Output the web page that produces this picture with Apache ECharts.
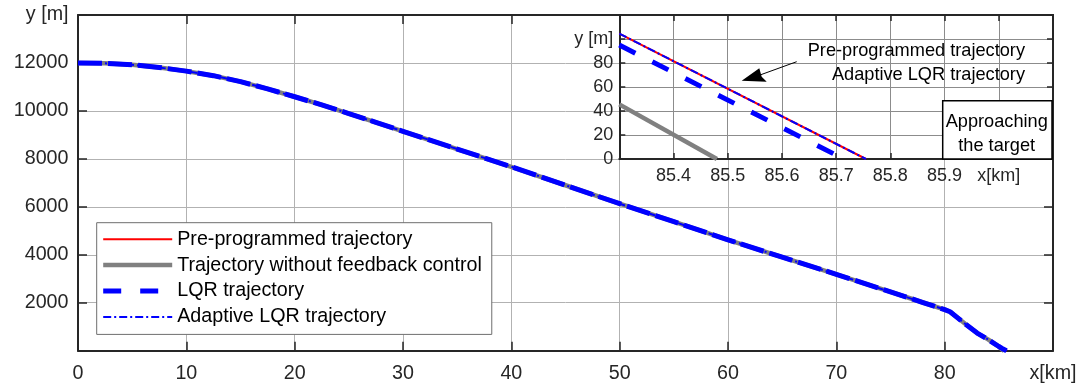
<!DOCTYPE html>
<html>
<head>
<meta charset="utf-8">
<script src="https://cdn.jsdelivr.net/npm/echarts@6/dist/echarts.min.js"></script>
<style>
html,body{margin:0;padding:0;background:#fff;}
#c{width:1084px;height:388px;}
</style>
</head>
<body>
<div id="c"></div>
<script>
// ---- data (x in km, y in m) ----
const seriesNames = ['Pre-programmed trajectory', 'Trajectory without feedback control', 'LQR trajectory', 'Adaptive LQR trajectory'];
const mainX = [0, 2.5, 5, 7.5, 10, 12.5, 15, 17.5, 20, 22.5, 25, 27.5, 30, 35, 40, 45, 50, 55, 60, 65, 70, 75, 78, 80, 80.5, 81.2, 82, 83, 84, 85];
const mainY = [12000, 11985, 11925, 11810, 11660, 11470, 11220, 10920, 10590, 10250, 9890, 9520, 9150, 8410, 7670, 6900, 6130, 5380, 4625, 3900, 3185, 2450, 2010, 1715, 1625, 1370, 1080, 735, 470, 175];
// close-up near the target (x in km, y in m)
const preInsetX = [85.3, 85.755];
const preInsetY = [104.5, 0];
const noFbInsetX = [85.3, 85.48];
const noFbInsetY = [45.5, 0];
const lqrInsetX = [85.3, 85.71];
const lqrInsetY = [95, 1];
const adaptInsetX = [85.3, 85.755];
const adaptInsetY = [104.5, 0];
// axis ticks
const mainXTicks = {min: 0, max: 90, interval: 10};
const mainYTicks = {min: 0, max: 14000, interval: 2000};
const insetXTicks = {min: 85.3, max: 86.1, interval: 0.1};
const insetYTicks = {min: 0, max: 120, interval: 20};

const zip = (xs, ys) => xs.map((x, i) => [x, ys[i]]);
const mainPts = zip(mainX, mainY);
const insetSets = [zip(preInsetX, preInsetY), zip(noFbInsetX, noFbInsetY), zip(lqrInsetX, lqrInsetY), zip(adaptInsetX, adaptInsetY)];

const FONT = "'Liberation Sans', Arial, Helvetica, sans-serif";
const TXT = '#262626';
const insetStyles = [
  {color: '#ff0000', width: 2, type: 'solid'},
  {color: '#808080', width: 4.5, type: 'solid'},
  {color: '#0000ff', width: 5, type: [18, 19]},
  {color: '#0000ff', width: 2, type: [8, 3, 2, 3]}
];
const mainStyles = [
  {color: '#ff0000', width: 2, type: 'solid'},
  {color: '#808080', width: 4.5, type: 'solid'},
  {color: '#0000ff', width: 5, type: [24, 6]},
  {color: '#0000ff', width: 2, type: [8, 3, 2, 3]}
];

const chart = echarts.init(document.getElementById('c'), null, {renderer: 'canvas'});

function axisCommon(extra) {
  return Object.assign({
    type: 'value',
    axisLine: {show: true, onZero: false, lineStyle: {color: TXT, width: 2}},
    axisTick: {show: true, inside: true, length: 9, lineStyle: {color: TXT, width: 1.5}},
    splitLine: {show: false},
    axisLabel: {show: false}
  }, extra);
}

const xAxes = [
  axisCommon(Object.assign({gridIndex: 0, position: 'bottom', z: 0,
    splitLine: {show: true, lineStyle: {color: '#b2b2b2', width: 1}},
    axisLabel: {show: true, showMinLabel: true, showMaxLabel: true, margin: 13, color: TXT, fontSize: 19.7, fontFamily: FONT,
      formatter: v => v === 90 ? 'x[km]' : String(v)}}, mainXTicks)),
  axisCommon(Object.assign({gridIndex: 0, position: 'top', z: 0}, mainXTicks)),
  axisCommon(Object.assign({gridIndex: 1, position: 'bottom', z: 2,
    axisTick: {show: true, inside: true, length: 6, lineStyle: {color: TXT, width: 1.5}},
    splitLine: {show: true, lineStyle: {color: '#8c8c8c', width: 1}},
    axisLabel: {show: true, showMinLabel: true, showMaxLabel: true, margin: 8, color: TXT, fontSize: 18, fontFamily: FONT,
      formatter: v => { const r = Math.round(v * 10) / 10; if (r === 86) return 'x[km]'; if (r < 85.35 || r > 86.05) return ''; return r.toFixed(1); }}}, insetXTicks)),
  axisCommon(Object.assign({gridIndex: 1, position: 'top', z: 2,
    axisTick: {show: true, inside: true, length: 6, lineStyle: {color: TXT, width: 1.5}}}, insetXTicks))
];
const yAxes = [
  axisCommon(Object.assign({gridIndex: 0, position: 'left', z: 0,
    splitLine: {show: true, lineStyle: {color: '#b2b2b2', width: 1}},
    axisLabel: {show: true, showMinLabel: true, showMaxLabel: true, margin: 9.5, color: TXT, fontSize: 19.7, fontFamily: FONT,
      formatter: v => v === 14000 ? 'y [m]' : (v === 0 ? '' : String(v))}}, mainYTicks)),
  axisCommon(Object.assign({gridIndex: 0, position: 'right', z: 0}, mainYTicks)),
  axisCommon(Object.assign({gridIndex: 1, position: 'left', z: 2,
    axisTick: {show: true, inside: true, length: 6, lineStyle: {color: TXT, width: 1.5}},
    splitLine: {show: true, lineStyle: {color: '#8c8c8c', width: 1}},
    axisLabel: {show: true, showMinLabel: true, showMaxLabel: true, margin: 6, color: TXT, fontSize: 18, fontFamily: FONT,
      formatter: v => v === 120 ? '' : (v === 100 ? 'y [m]' : String(v))}}, insetYTicks)),
  axisCommon(Object.assign({gridIndex: 1, position: 'right', z: 2,
    axisTick: {show: true, inside: true, length: 6, lineStyle: {color: TXT, width: 1.5}}}, insetYTicks))
];

const series = [];
// inset series first so the legend takes its line styles from them
seriesNames.forEach((name, i) => {
  const s = insetStyles[i];
  series.push({
    name, type: 'line', xAxisIndex: 2, yAxisIndex: 2, z: 5 + i * 0.1,
    data: insetSets[i],
    symbol: 'none', showSymbol: false, animation: false, clip: true,
    lineStyle: {color: s.color, width: s.width, type: s.type, cap: 'butt'},
    itemStyle: {color: s.color}
  });
});
seriesNames.forEach((name, i) => {
  const s = mainStyles[i];
  series.push({
    name, type: 'line', xAxisIndex: 0, yAxisIndex: 0, z: 2 + i * 0.1,
    data: mainPts.concat(insetSets[i]),
    symbol: 'none', showSymbol: false, smooth: false, animation: false,
    lineStyle: {color: s.color, width: s.width, type: s.type, cap: 'butt', join: 'round'},
    itemStyle: {color: s.color}
  });
});

const option = {
  animation: false,
  backgroundColor: '#ffffff',
  textStyle: {fontFamily: FONT},
  grid: [
    {left: 78, top: 15, right: 31, bottom: 37.3, show: false, z: 0},
    {left: 619.3, top: 15, right: 31, bottom: 229, show: true, backgroundColor: '#ffffff', borderWidth: 0, z: 1}
  ],
  xAxis: xAxes,
  yAxis: yAxes,
  legend: {
    data: seriesNames.map((name, i) => ({
      name,
      lineStyle: {color: insetStyles[i].color, width: insetStyles[i].width, type: insetStyles[i].type}
    })),
    orient: 'vertical',
    left: 96.7, top: 222.7,
    itemWidth: 69, itemHeight: 14, itemGap: 5.9,
    padding: [6.5, 10, 7.5, 4],
    backgroundColor: '#ffffff',
    borderColor: '#6e6e6e', borderWidth: 1,
    selectedMode: false,
    itemStyle: {opacity: 0},
    lineStyle: {width: 'inherit', type: 'inherit', color: 'inherit'},
    textStyle: {color: '#000', fontSize: 19.7, fontFamily: FONT},
    z: 20
  },
  series: series,
  graphic: [
    {type: 'line', z: 50, shape: {x1: 796.7, y1: 61.7, x2: 760, y2: 75}, style: {stroke: '#000', lineWidth: 1}},
    {type: 'polygon', z: 50, shape: {points: [[741.7, 80.7], [759.3, 68.3], [761.7, 76.7], [766.7, 81.7]]}, style: {fill: '#000'}},
    {type: 'text', z: 50, style: {text: 'Pre-programmed trajectory', x: 1025, y: 51, align: 'right', verticalAlign: 'middle', textAlign: 'right', textVerticalAlign: 'middle', font: '18.2px ' + FONT, fill: '#000'}},
    {type: 'text', z: 50, style: {text: 'Adaptive LQR trajectory', x: 1025, y: 75, align: 'right', verticalAlign: 'middle', textAlign: 'right', textVerticalAlign: 'middle', font: '18.2px ' + FONT, fill: '#000'}},
    {type: 'rect', z: 50, shape: {x: 942.7, y: 100.7, width: 109.3, height: 58.3}, style: {fill: '#fff', stroke: '#000', lineWidth: 1.5}},
    {type: 'text', z: 51, style: {text: 'Approaching', x: 996.7, y: 122, align: 'center', verticalAlign: 'middle', textAlign: 'center', textVerticalAlign: 'middle', font: '18.2px ' + FONT, fill: '#000'}},
    {type: 'text', z: 51, style: {text: 'the target', x: 996.7, y: 145.7, align: 'center', verticalAlign: 'middle', textAlign: 'center', textVerticalAlign: 'middle', font: '18.2px ' + FONT, fill: '#000'}}
  ]
};
chart.setOption(option);
</script>
</body>
</html>
